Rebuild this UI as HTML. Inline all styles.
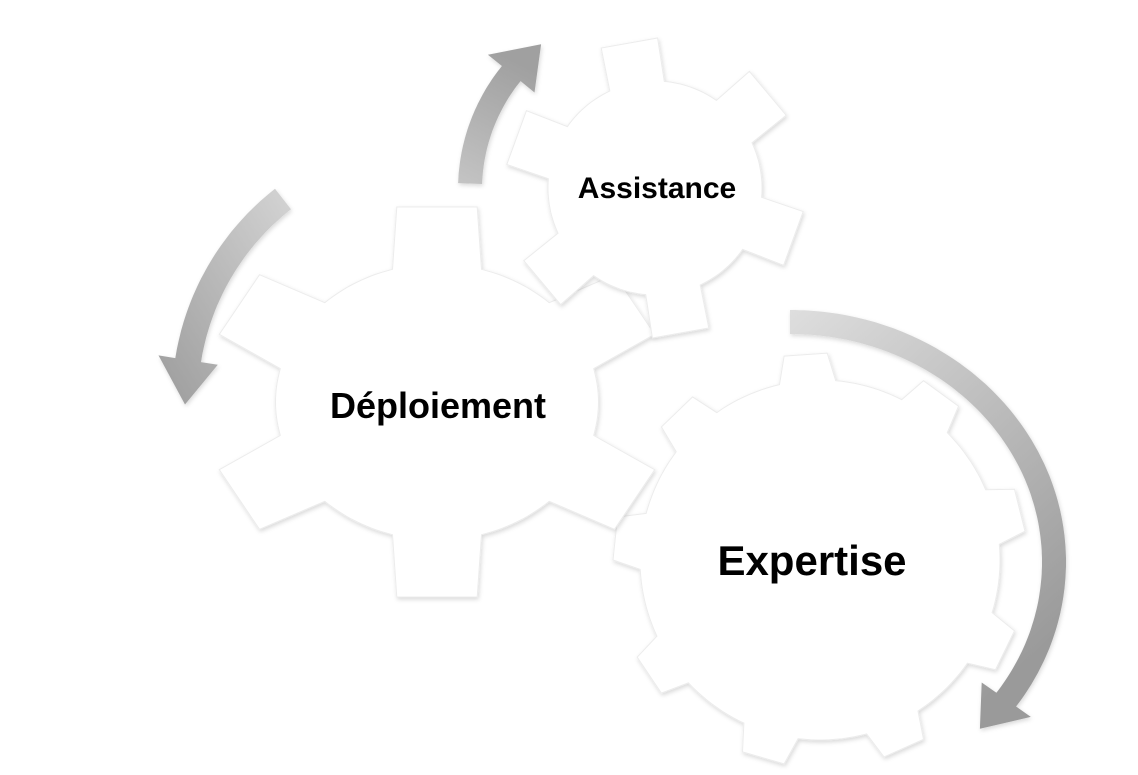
<!DOCTYPE html>
<html><head><meta charset="utf-8">
<style>
html,body{margin:0;padding:0;background:#fff;}
svg{display:block;}
text{font-family:"Liberation Sans",Arial,sans-serif;font-weight:bold;fill:#000;}
</style></head>
<body>
<svg id="s" width="1138" height="775" viewBox="0 0 1138 775" xmlns="http://www.w3.org/2000/svg">
<defs>
<filter id="sh" x="-20%" y="-20%" width="140%" height="140%">
<feDropShadow dx="1" dy="2" stdDeviation="2" flood-color="#000" flood-opacity="0.15"/>
</filter>
<linearGradient id="g1" x1="0" y1="1" x2="0.3" y2="0"><stop offset="0" stop-color="#c4c4c4"/><stop offset="1" stop-color="#a0a0a0"/></linearGradient>
<linearGradient id="g2" x1="1" y1="0" x2="0" y2="1"><stop offset="0" stop-color="#d4d4d4"/><stop offset="1" stop-color="#9c9c9c"/></linearGradient>
<linearGradient id="g3" x1="0" y1="0" x2="0.6" y2="1"><stop offset="0" stop-color="#dedede"/><stop offset="1" stop-color="#9a9a9a"/></linearGradient>
</defs>
<g id="gears"></g>
<g id="arrows"></g>
<text x="657" y="198" font-size="30" text-anchor="middle">Assistance</text>
<text x="438" y="418" font-size="36" text-anchor="middle">Déploiement</text>
<text x="812" y="575" font-size="42" text-anchor="middle">Expertise</text>
</svg>
<script>
var NS="http://www.w3.org/2000/svg";
function pt(cx,cy,rx,ry,a){a=a*Math.PI/180;return [cx+rx*Math.cos(a),cy-ry*Math.sin(a)];}
function gear(cx,cy,sx,sy,r,R,n,off,bw,tw){
  var p=[],step=360/n;
  for(var i=0;i<n;i++){
    var c=off-i*step;
    p.push(pt(cx,cy,r*sx,r*sy,c+bw));
    p.push(pt(cx,cy,R*sx,R*sy,c+tw));
    p.push(pt(cx,cy,R*sx,R*sy,c-tw));
    p.push(pt(cx,cy,r*sx,r*sy,c-bw));
    var e=c-step+bw;
    for(var a=c-bw;a>e;a-=2)p.push(pt(cx,cy,r*sx,r*sy,a));
  }
  var d="M"+p.map(function(q){return q[0].toFixed(1)+","+q[1].toFixed(1)}).join("L")+"Z";
  var el=document.createElementNS(NS,"path");
  el.setAttribute("d",d);el.setAttribute("fill","#fff");
  el.setAttribute("stroke","#ececec");el.setAttribute("stroke-width","1");
  el.setAttribute("filter","url(#sh)");
  document.getElementById("gears").appendChild(el);
}
function arrow(cx,cy,rx,ry,a0,a1,ha,w,hw,fill){
  var dir=a1>a0?1:-1,ab=a1-dir*ha,o=[],inn=[];
  for(var a=a0;dir>0?a<=ab:a>=ab;a+=dir*1){
    o.push(pt(cx,cy,rx+w/2,ry+w/2,a));inn.push(pt(cx,cy,rx-w/2,ry-w/2,a));
  }
  o.push(pt(cx,cy,rx+w/2,ry+w/2,ab));inn.push(pt(cx,cy,rx-w/2,ry-w/2,ab));
  var p=o.slice();
  p.push(pt(cx,cy,rx+hw,ry+hw,ab));
  p.push(pt(cx,cy,rx,ry,a1));
  p.push(pt(cx,cy,rx-hw,ry-hw,ab));
  p=p.concat(inn.reverse());
  var d="M"+p.map(function(q){return q[0].toFixed(1)+","+q[1].toFixed(1)}).join("L")+"Z";
  var el=document.createElementNS(NS,"path");
  el.setAttribute("d",d);el.setAttribute("fill",fill);el.setAttribute("filter","url(#sh)");
  document.getElementById("arrows").appendChild(el);
}
gear(820,560,1,1,180,207,9,94,9,6);
gear(437,402,1.17,1,138,198,6,90,16,10);
gear(655,188,1,1,107,150,6,100,15,11);
arrow(655,190,185,185,178,128,13,24,30,"url(#g1)");
arrow(440,400,255,255,128,181,10,26,30,"url(#g2)");
arrow(790,562,264,240,90,-44,9,24,30,"url(#g3)");
</script>
</body></html>
